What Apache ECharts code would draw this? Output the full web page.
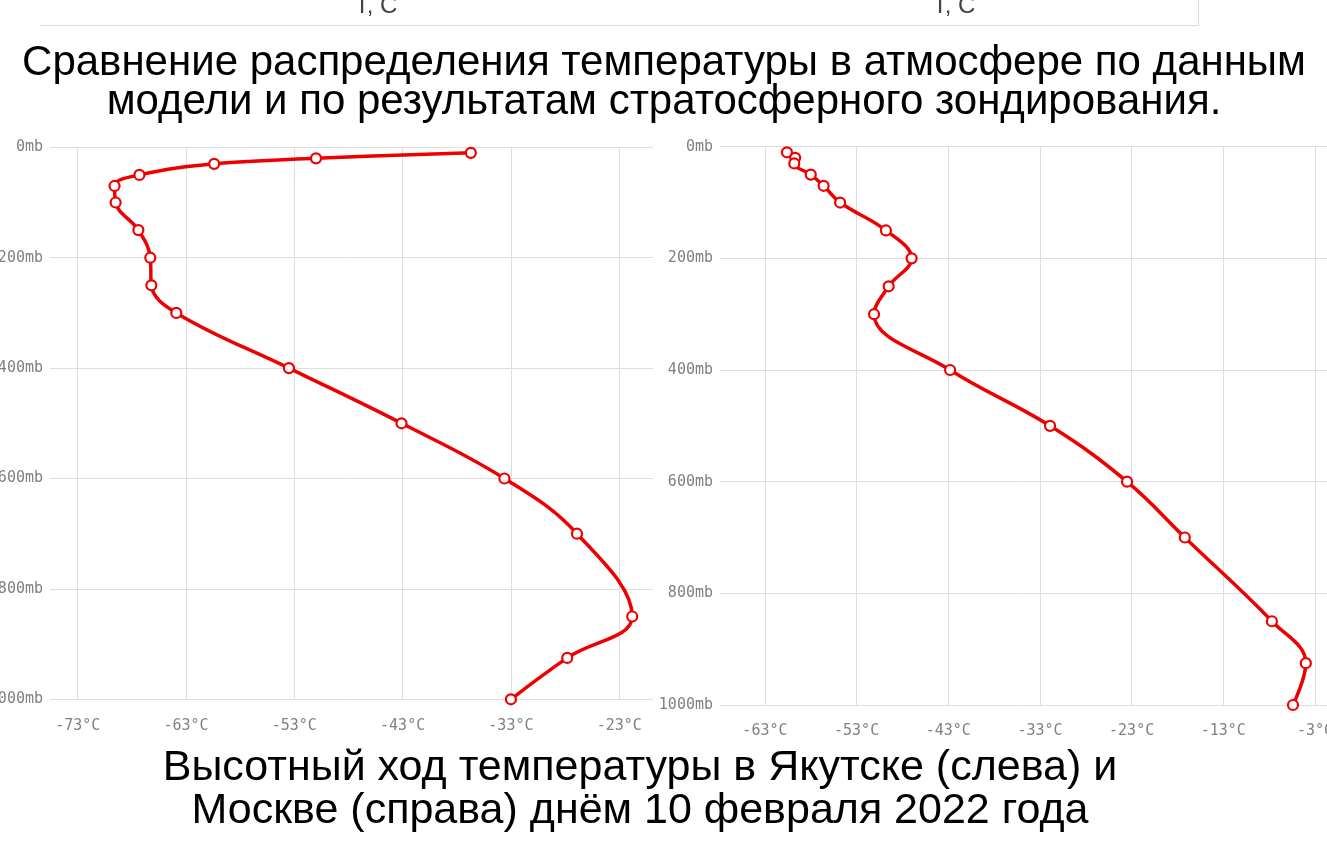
<!DOCTYPE html>
<html lang="ru">
<head>
<meta charset="utf-8">
<title>Высотный ход температуры</title>
<script src="https://cdn.jsdelivr.net/npm/echarts@6/dist/echarts.min.js"></script>
<style>
  html, body { margin: 0; padding: 0; background: #ffffff; }
  #chart { width: 1327px; height: 852px; }
</style>
</head>
<body>
<div id="chart"></div>
<script>
// Pressure levels of the sounding, mb
const pressureLevels = [10, 20, 30, 50, 70, 100, 150, 200, 250, 300, 400, 500, 600, 700, 850, 925, 1000];

// Temperature at each level, °C — Yakutsk (left panel)
const yakutskTemp = [-36.7, -51.0, -60.4, -67.3, -69.6, -69.5, -67.4, -66.3, -66.2, -63.9, -53.5, -43.1, -33.6, -26.9, -21.8, -27.8, -33.0];

// Temperature at each level, °C — Moscow (right panel)
const moscowTemp = [-60.6, -59.7, -59.8, -58.0, -56.6, -54.8, -49.8, -47.0, -49.5, -51.1, -42.8, -31.9, -23.5, -17.2, -7.7, -4.0, -5.4];

// Tick labels of the temperature axes
const yakutskTicks = [-73, -63, -53, -43, -33, -23];
const moscowTicks = [-63, -53, -43, -33, -23, -13, -3];

// Pressure axis ticks
const pressureTicks = [0, 200, 400, 600, 800, 1000];

const titleLines = [
  'Сравнение распределения температуры в атмосфере по данным',
  'модели и по результатам стратосферного зондирования.'
];
const captionLines = [
  'Высотный ход температуры в Якутске (слева) и',
  'Москве (справа) днём 10 февраля 2022 года'
];

const RED = 'rgb(238,0,0)';
const GRID_LINE = '#dedede';
const AXIS_TEXT = '#808080';
const MONO = '"DejaVu Sans Mono", "Liberation Mono", monospace';
const SANS = '"Liberation Sans", Arial, sans-serif';

function tempAxis(gridIndex, min, max, ticks) {
  return {
    type: 'value',
    gridIndex: gridIndex,
    min: min,
    max: max,
    axisLine: { show: false },
    axisTick: {
      show: true,
      length: 9,
      customValues: ticks,
      lineStyle: { color: GRID_LINE, width: 1 }
    },
    axisLabel: {
      customValues: ticks,
      formatter: function (v) { return v + '°C'; },
      color: AXIS_TEXT,
      fontFamily: MONO,
      fontSize: 15,
      margin: 19,
      hideOverlap: false
    },
    splitLine: { show: true, lineStyle: { color: GRID_LINE, width: 1 } }
  };
}

function pressureAxis(gridIndex) {
  return {
    type: 'value',
    gridIndex: gridIndex,
    inverse: true,
    min: pressureTicks[0],
    max: pressureTicks[pressureTicks.length - 1],
    interval: 200,
    axisLine: { show: false },
    axisTick: { show: false },
    axisLabel: {
      formatter: function (v) { return String(v) + 'mb'; },
      color: AXIS_TEXT,
      fontFamily: MONO,
      fontSize: 15,
      margin: 7
    },
    splitLine: { show: true, lineStyle: { color: GRID_LINE, width: 1 } }
  };
}

function profileSeries(idx, temps) {
  return {
    type: 'line',
    xAxisIndex: idx,
    yAxisIndex: idx,
    data: temps.map(function (t, i) { return [t, pressureLevels[i]]; }),
    smooth: 0.4,
    symbol: 'circle',
    symbolSize: 10,
    showAllSymbol: true,
    lineStyle: { color: RED, width: 3.5 },
    itemStyle: { color: '#ffffff', borderColor: RED, borderWidth: 2.2 },
    emphasis: { disabled: true },
    z: 3
  };
}

const chart = echarts.init(document.getElementById('chart'), null, { renderer: 'canvas' });

chart.setOption({
  backgroundColor: '#ffffff',
  animation: false,
  grid: [
    { left: 50, top: 147.3, width: 603, height: 552, containLabel: false, outerBoundsMode: 'none' },
    { left: 720, top: 146.7, right: 0, height: 558.3, containLabel: false, outerBoundsMode: 'none' }
  ],
  xAxis: [
    tempAxis(0, -75.56, -19.88, yakutskTicks),
    tempAxis(1, -67.9, -1.69, moscowTicks)
  ],
  yAxis: [pressureAxis(0), pressureAxis(1)],
  series: [profileSeries(0, yakutskTemp), profileSeries(1, moscowTemp)],
  graphic: [
    // lower edge of the box above the heading
    { type: 'line', shape: { x1: 40, y1: 25.5, x2: 1198.5, y2: 25.5 }, style: { stroke: '#dcdcdc', lineWidth: 1 }, silent: true },
    { type: 'line', shape: { x1: 1198.5, y1: 0, x2: 1198.5, y2: 25.5 }, style: { stroke: '#dcdcdc', lineWidth: 1 }, silent: true },
    { type: 'text', style: { text: 'T, C', x: 376, y: 6, textAlign: 'center', textVerticalAlign: 'middle', font: '24px ' + SANS, fill: '#444' }, silent: true },
    { type: 'text', style: { text: 'T, C', x: 954, y: 6, textAlign: 'center', textVerticalAlign: 'middle', font: '24px ' + SANS, fill: '#444' }, silent: true },
    // heading
    { type: 'text', style: { text: titleLines[0], x: 664, y: 63, textAlign: 'center', textVerticalAlign: 'middle', font: '42px ' + SANS, fill: '#000' }, silent: true },
    { type: 'text', style: { text: titleLines[1], x: 664, y: 102, textAlign: 'center', textVerticalAlign: 'middle', font: '42px ' + SANS, fill: '#000' }, silent: true },
    // caption
    { type: 'text', style: { text: captionLines[0], x: 640, y: 768, textAlign: 'center', textVerticalAlign: 'middle', font: '43px ' + SANS, fill: '#000' }, silent: true },
    { type: 'text', style: { text: captionLines[1], x: 640, y: 811, textAlign: 'center', textVerticalAlign: 'middle', font: '43px ' + SANS, fill: '#000' }, silent: true }
  ]
});
</script>
</body>
</html>
